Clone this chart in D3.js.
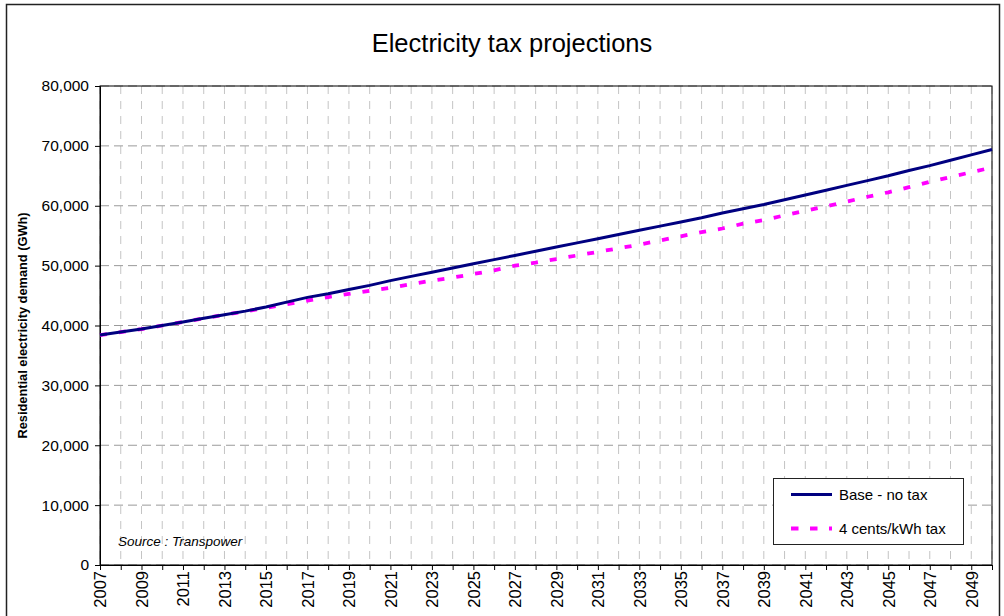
<!DOCTYPE html>
<html>
<head>
<meta charset="utf-8">
<script src="https://cdnjs.cloudflare.com/ajax/libs/d3/7.8.5/d3.min.js"></script>
<style>
  body { margin: 0; background: #fff; }
  svg { display: block; font-family: "Liberation Sans", Arial, sans-serif; }
</style>
</head>
<body>
<div id="chart-area"></div>
<script>
const years = [
  2007, 2008, 2009, 2010, 2011, 2012, 2013, 2014, 2015, 2016, 2017,
  2018, 2019, 2020, 2021, 2022, 2023, 2024, 2025, 2026, 2027, 2028,
  2029, 2030, 2031, 2032, 2033, 2034, 2035, 2036, 2037, 2038, 2039,
  2040, 2041, 2042, 2043, 2044, 2045, 2046, 2047, 2048, 2049, 2050
];

// Base - no tax (GWh)
const baseNoTax = [
  38400, 38900, 39400, 40000, 40600, 41200, 41800, 42400, 43100, 43900, 44700,
  45300, 46000, 46700, 47500, 48200, 48900, 49600, 50300, 51000, 51700, 52400,
  53100, 53800, 54500, 55200, 55900, 56600, 57300, 58000, 58800, 59500, 60200,
  61000, 61800, 62600, 63400, 64200, 65000, 65900, 66700, 67600, 68500, 69400
];

// 4 cents/kWh tax (GWh)
const centsTax = [
  38400, 38900, 39400, 40000, 40600, 41200, 41800, 42350, 42950, 43550, 44150,
  44750, 45300, 45800, 46300, 46900, 47500, 48000, 48600, 49200, 50000, 50500,
  51100, 51700, 52300, 52900, 53500, 54200, 54900, 55600, 56200, 57000, 57600,
  58400, 59150, 59900, 60700, 61500, 62250, 63100, 64000, 64800, 65600, 66400
];

const yTicks = [0, 10000, 20000, 30000, 40000, 50000, 60000, 70000, 80000];

const margin = { top: 86, right: 12, bottom: 51, left: 100 };
const width = 1004 - margin.left - margin.right,
  height = 616 - margin.top - margin.bottom;

const svg = d3
  .select("#chart-area")
  .append("svg")
  .attr("width", 1004)
  .attr("height", 616);

// chart area border
svg
  .append("rect")
  .attr("x", 6.5)
  .attr("y", 4.5)
  .attr("width", 993)
  .attr("height", 700)
  .attr("fill", "#fff")
  .attr("stroke", "#222")
  .attr("stroke-width", 1.5);

// Title
svg
  .append("text")
  .attr("x", 512)
  .attr("y", 52)
  .attr("text-anchor", "middle")
  .attr("font-size", "25.5px")
  .attr("fill", "#000")
  .text("Electricity tax projections");

const g = svg
  .append("g")
  .attr("transform", "translate(" + margin.left + "," + margin.top + ")");

// Scales
const xScale = d3
  .scaleLinear()
  .domain([years[0], years[years.length - 1]])
  .range([0, width]);
const yScale = d3.scaleLinear().domain([0, 80000]).range([height, 0]);

// Gridlines
g.append("g")
  .selectAll("line")
  .data(years)
  .enter()
  .append("line")
  .attr("x1", d => xScale(d))
  .attr("x2", d => xScale(d))
  .attr("y1", 0)
  .attr("y2", height)
  .attr("stroke", "#c4c4c4")
  .attr("stroke-width", 1)
  .attr("stroke-dasharray", "8,7");

g.append("g")
  .selectAll("line")
  .data(yTicks)
  .enter()
  .append("line")
  .attr("x1", 0)
  .attr("x2", width)
  .attr("y1", d => yScale(d))
  .attr("y2", d => yScale(d))
  .attr("stroke", "#9a9a9a")
  .attr("stroke-width", 1)
  .attr("stroke-dasharray", "9,5");

// Plot frame
g.append("rect")
  .attr("x", 0)
  .attr("y", 0)
  .attr("width", width)
  .attr("height", height)
  .attr("fill", "none")
  .attr("stroke", "#000")
  .attr("stroke-width", 1);

// Axes
const xAxisCall = d3
  .axisBottom(xScale)
  .tickValues(years)
  .tickSize(5)
  .tickPadding(4)
  .tickFormat(d => ((d - years[0]) % 2 === 0 ? d : ""));

const xAxisGroup = g
  .append("g")
  .attr("class", "x axis")
  .attr("transform", "translate(0, " + height + ")")
  .call(xAxisCall);

xAxisGroup
  .selectAll("text")
  .attr("font-size", "16.5px")
  .attr("font-family", "Liberation Sans, Arial, sans-serif")
  .attr("fill", "#000")
  .attr("text-anchor", "end")
  .attr("transform", "rotate(-90)")
  .attr("x", -6)
  .attr("y", 0)
  .attr("dy", "0.36em");

const yAxisCall = d3
  .axisLeft(yScale)
  .tickValues(yTicks)
  .tickSize(5)
  .tickPadding(6)
  .tickFormat(d3.format(","));

const yAxisGroup = g
  .append("g")
  .attr("class", "y axis")
  .call(yAxisCall);

yAxisGroup
  .selectAll("text")
  .attr("font-size", "15.5px")
  .attr("font-family", "Liberation Sans, Arial, sans-serif")
  .attr("fill", "#000");

g.selectAll(".axis path.domain").attr("stroke", "#000");
g.selectAll(".axis line").attr("stroke", "#000");

// Y Label
svg
  .append("text")
  .attr("x", -(margin.top + height / 2))
  .attr("y", 27)
  .attr("font-size", "12.8px")
  .attr("font-weight", "bold")
  .attr("text-anchor", "middle")
  .attr("transform", "rotate(-90)")
  .text("Residential electricity demand (GWh)");

// Lines
const line = d3
  .line()
  .x((d, i) => xScale(years[i]))
  .y(d => yScale(d));

g.append("path")
  .datum(centsTax)
  .attr("d", line)
  .attr("fill", "none")
  .attr("stroke", "#ff00ff")
  .attr("stroke-width", 3.8)
  .attr("stroke-dasharray", "7,12");

g.append("path")
  .datum(baseNoTax)
  .attr("d", line)
  .attr("fill", "none")
  .attr("stroke", "#000080")
  .attr("stroke-width", 3);

// Source note
g.append("text")
  .attr("x", 18)
  .attr("y", height - 19)
  .attr("font-size", "13.5px")
  .attr("font-style", "italic")
  .text("Source : Transpower");

// Legend
const legend = svg.append("g").attr("transform", "translate(773, 478)");

legend
  .append("rect")
  .attr("x", 0.5)
  .attr("y", 0.5)
  .attr("width", 190)
  .attr("height", 66)
  .attr("fill", "#fff")
  .attr("stroke", "#222")
  .attr("stroke-width", 1);

const legendItems = [
  { label: "Base - no tax", color: "#000080", dash: null, width: 3 },
  { label: "4 cents/kWh tax", color: "#ff00ff", dash: "7.5,11.5", width: 3.8 }
];

legendItems.forEach((item, i) => {
  const cy = 16.5 + i * 34;
  legend
    .append("line")
    .attr("x1", 18)
    .attr("x2", 59)
    .attr("y1", cy)
    .attr("y2", cy)
    .attr("stroke", item.color)
    .attr("stroke-width", item.width)
    .attr("stroke-dasharray", item.dash);
  legend
    .append("text")
    .attr("x", 66)
    .attr("y", cy)
    .attr("dy", "0.36em")
    .attr("font-size", "15px")
    .text(item.label);
});
</script>
</body>
</html>
